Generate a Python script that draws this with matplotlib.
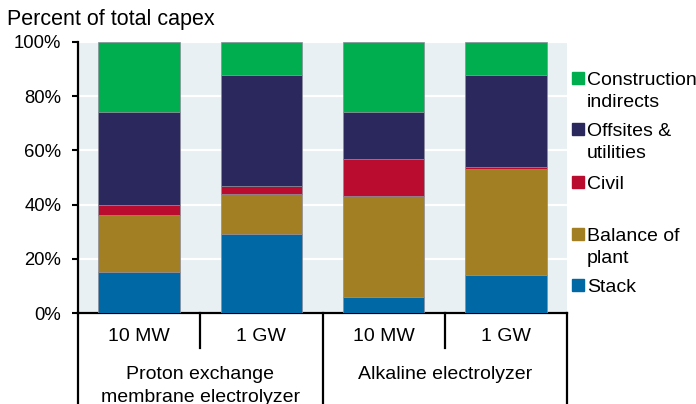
import matplotlib.pyplot as plt
from matplotlib.patches import Rectangle
from matplotlib.transforms import blended_transform_factory

plt.rcParams['font.family'] = ['Liberation Sans', 'DejaVu Sans']

# Data (percent of total capex), bottom -> top of each stack
sizes = ["10 MW", "1 GW", "10 MW", "1 GW"]
groups = ["Proton exchange\nmembrane electrolyzer", "Alkaline electrolyzer"]
components = ["Stack", "Balance of\nplant", "Civil", "Offsites &\nutilities", "Construction\nindirects"]
stack = [15, 29, 6, 14]
balance_of_plant = [21, 15, 37, 39]
civil = [4, 3, 14, 1]
offsites = [34, 41, 17, 34]
construction = [26, 12, 26, 12]
yticks = [0, 20, 40, 60, 80, 100]

series = [stack, balance_of_plant, civil, offsites, construction]
colors = ["#0068A5", "#A37F24", "#BA0C2F", "#2A285D", "#00AE4F"]
legend_baselines = [292, 241, 189, 136, 85]  # pixel rows of first line

W, H = 696, 404
fig = plt.figure(figsize=(W / 100, H / 100), dpi=100)
ax = fig.add_axes([78 / W, 1 - 313 / H, (567 - 78) / W, (313 - 42) / H])
ax.set_facecolor("#E8F0F3")

x = list(range(len(sizes)))
bottom = [0] * len(sizes)
for vals, col in zip(series, colors):
    ax.bar(x, vals, bottom=bottom, width=0.665, color=col,
           edgecolor="#8C8C9A", linewidth=0.5, zorder=3)
    bottom = [b + v for b, v in zip(bottom, vals)]

ax.set_xlim(-0.5, len(sizes) - 0.5)
ax.set_ylim(0, 100)
ax.set_yticks(yticks)
ax.set_yticklabels([f"{v}%" for v in yticks], fontsize=13.3)
ax.set_xticks([])
ax.grid(axis="y", color="white", linewidth=1.6, zorder=1)
ax.set_axisbelow(True)
ax.tick_params(axis="y", direction="out", length=4, width=1.5, pad=8)
for s in ["top", "right"]:
    ax.spines[s].set_visible(False)
for s in ["left", "bottom"]:
    ax.spines[s].set_linewidth(1.6)
    ax.spines[s].set_color("black")

# category axis below the plot
tr = blended_transform_factory(ax.transData, ax.transAxes)
for i in range(len(sizes) + 1):
    xb = i - 0.5
    y_end = -0.336 if i % 2 == 0 else -0.129
    ax.plot([xb, xb], [0, y_end], color="black", lw=1.6, transform=tr,
            clip_on=False, zorder=5)
for i, lab in enumerate(sizes):
    ax.text(i, -0.085, lab, transform=tr, ha="center", va="center", fontsize=14)
for g, lab in enumerate(groups):
    for k, line in enumerate(lab.split("\n")):
        ax.text(2 * g + 0.5, -0.218 - k * 0.085, line, transform=tr,
                ha="center", va="center_baseline", fontsize=14)

# legend drawn by hand
for lab, col, yb in zip(components, colors, legend_baselines):
    fig.add_artist(Rectangle((572 / W, 1 - (yb - 1.5) / H), 11.5 / W, 11.5 / H,
                             transform=fig.transFigure, color=col))
    for k, line in enumerate(lab.split("\n")):
        fig.text(587 / W, 1 - (yb + 22 * k) / H, line, fontsize=14,
                 ha="left", va="baseline")

fig.text(7 / W, 1 - 25 / H, "Percent of total capex", fontsize=15.5,
         ha="left", va="baseline")

fig.savefig("out.png", dpi=100)
